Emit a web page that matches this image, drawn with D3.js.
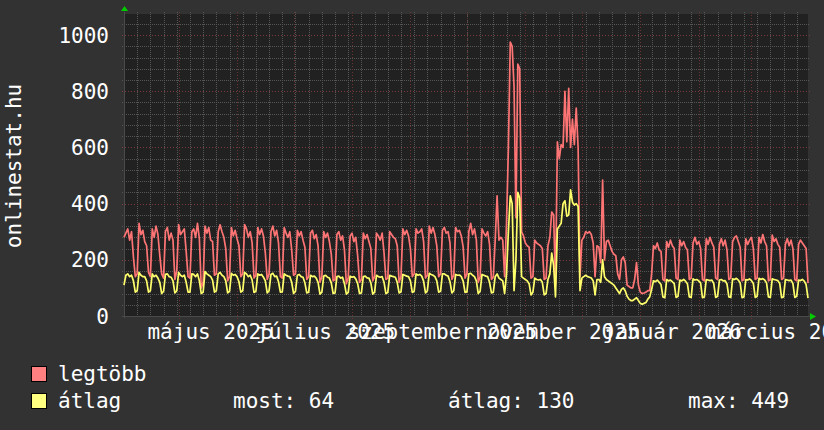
<!DOCTYPE html>
<html>
<head>
<meta charset="utf-8">
<script src="https://cdn.jsdelivr.net/npm/d3@7"></script>
<style>
  body { margin: 0; background: #323232; }
  text { font-family: "DejaVu Sans Mono", monospace; fill: #fff; }
</style>
</head>
<body>
<svg id="chart" width="824" height="430"></svg>
<script>
// Daily values, first day 2025-04-02, last day 2026-03-31
const startDate = new Date(2025, 3, 2);
const endDate = new Date(2026, 2, 31);

// legtöbb (max per day)
const legtobb = [
  280, 295, 310, 270, 300, 210, 140, 150,
  330, 290, 305, 265, 250, 155, 140,
  310, 280, 320, 290, 215, 150, 135,
  300, 315, 270, 295, 270, 130, 160,
  325, 290, 300, 310, 230, 140, 135,
  300, 310, 280, 330, 275, 100, 120,
  320, 295, 315, 270, 265, 145, 150,
  300, 325, 300, 280, 240, 125, 140,
  315, 285, 305, 275, 250, 140, 150,
  325, 310, 280, 300, 260, 135, 145,
  315, 290, 310, 285, 225, 130, 150,
  300, 320, 285, 305, 260, 140, 135,
  315, 295, 280, 300, 235, 145, 150,
  305, 285, 300, 270, 245, 130, 140,
  295, 305, 275, 290, 250, 120, 140,
  300, 280, 295, 265, 220, 125, 130,
  290, 300, 270, 285, 235, 115, 135,
  285, 295, 265, 280, 215, 120, 130,
  295, 275, 290, 265, 240, 125, 140,
  295, 285, 270, 295, 225, 130, 135,
  300, 290, 280, 275, 250, 120, 140,
  310, 290, 305, 285, 240, 140, 150,
  310, 295, 300, 310, 265, 135, 145,
  320, 295, 315, 290, 250, 140, 150,
  305, 315, 295, 300, 260, 130, 145,
  315, 300, 305, 285, 245, 135, 150,
  300, 330, 290, 310, 270, 120, 140,
  310, 295, 285, 300, 255, 130, 140,
  270, 428, 270, 280, 270, 140, 330,
  600, 975, 960, 815, 350, 897, 880,
  300, 285, 260, 250, 245, 135, 140,
  270, 260, 255, 250, 240, 130, 135,
  250, 280, 370, 360, 110, 620, 560,
  610, 600, 800, 620, 810, 600, 700,
  610, 740, 600, 140, 270, 280, 300,
  295, 300, 290, 260, 140, 250, 245,
  190, 484, 200, 265, 270, 250, 230,
  220, 215, 150, 130, 200, 210, 190,
  110, 105, 100, 100, 130, 190, 110,
  85, 80, 82, 85, 90, 90, 150,
  250, 240, 260, 235, 230, 130, 125,
  265, 245, 270, 250, 240, 135, 130,
  270, 250, 265, 245, 235, 130, 135,
  260, 280, 255, 265, 240, 130, 125,
  275, 255, 280, 260, 245, 135, 130,
  255, 275, 250, 270, 235, 130, 135,
  265, 280, 285, 265, 245, 125, 130,
  275, 255, 270, 280, 240, 130, 135,
  280, 260, 290, 265, 250, 125, 130,
  288, 265, 275, 255, 245, 130, 135,
  255, 275, 250, 270, 240, 130, 125,
  255, 270, 260, 250, 240, 117
];

// átlag (daily average)
const atlag = [
  110, 145, 150, 140, 145, 125, 85, 90,
  155, 145, 140, 140, 125, 85, 90,
  150, 140, 145, 135, 120, 80, 88,
  148, 150, 140, 138, 125, 82, 90,
  155, 145, 140, 145, 120, 85, 85,
  150, 148, 140, 150, 125, 80, 85,
  158, 150, 145, 140, 128, 85, 90,
  150, 155, 145, 140, 125, 82, 88,
  152, 145, 148, 140, 122, 85, 90,
  155, 150, 140, 145, 128, 84, 88,
  150, 145, 148, 138, 125, 82, 90,
  148, 152, 140, 142, 122, 85, 86,
  150, 145, 142, 140, 120, 80, 88,
  145, 148, 140, 138, 118, 82, 85,
  145, 140, 142, 135, 120, 78, 85,
  142, 145, 138, 135, 118, 80, 82,
  140, 142, 135, 138, 115, 78, 84,
  142, 138, 140, 132, 115, 80, 82,
  140, 142, 136, 135, 118, 78, 85,
  145, 140, 138, 140, 120, 80, 84,
  145, 142, 140, 138, 120, 82, 86,
  148, 145, 142, 140, 125, 84, 88,
  150, 145, 148, 142, 124, 82, 90,
  152, 148, 145, 140, 125, 85, 88,
  150, 150, 145, 142, 122, 82, 90,
  148, 145, 146, 140, 124, 84, 86,
  150, 152, 145, 140, 125, 80, 88,
  148, 145, 142, 140, 120, 82, 85,
  140, 150, 135, 130, 125, 80, 150,
  300, 428, 400, 90, 200, 440, 420,
  140, 135, 130, 125, 115, 75, 85,
  135, 130, 128, 130, 120, 75, 80,
  130, 150, 224, 180, 68, 310, 320,
  330, 400, 410, 355, 360, 449, 405,
  395, 400, 390, 90, 135, 140, 145,
  140, 138, 135, 125, 75, 130, 130,
  120, 200, 140, 130, 125, 120, 115,
  110, 100, 90, 80, 95, 100, 90,
  70, 60, 55, 55, 60, 65, 55,
  45, 42, 45, 48, 60, 68, 95,
  125, 122, 128, 120, 112, 68, 65,
  130, 125, 128, 122, 115, 66, 70,
  128, 125, 130, 124, 115, 68, 66,
  132, 128, 130, 125, 118, 65, 68,
  130, 128, 126, 128, 115, 66, 70,
  128, 130, 125, 126, 114, 68, 66,
  132, 130, 134, 128, 118, 65, 68,
  130, 128, 132, 126, 116, 66, 70,
  134, 130, 133, 128, 118, 68, 66,
  132, 130, 128, 126, 116, 65, 68,
  130, 128, 126, 128, 115, 66, 70,
  128, 126, 130, 124, 112, 64
];

const yTicks = [0, 200, 400, 600, 800, 1000];
const monthLabels = ["május 2025", "július 2025", "szeptember 2025", "november 2025", "január 2026", "március 2026"];
const labelMonths = [new Date(2025, 4, 1), new Date(2025, 6, 1), new Date(2025, 8, 1), new Date(2025, 10, 1), new Date(2026, 0, 1), new Date(2026, 2, 1)];
const legendNames = ["legtöbb", "átlag"];
const legendColors = ["#ff8080", "#ffff80"];
const lineColors = ["#ff7474", "#ffff6c"];
const stats = ["most: 64", "átlag: 130", "max: 449"];

const svg = d3.select("#chart");
const plot = { left: 124, right: 808, top: 14, bottom: 316 };

const x = d3.scaleTime().domain([startDate, endDate]).range([plot.left, plot.right]);
const y = d3.scaleLinear().domain([0, 1075]).range([plot.bottom, plot.top]);

// canvas + plot background
svg.append("rect").attr("width", 824).attr("height", 430).attr("fill", "#323232");
svg.append("rect")
  .attr("x", plot.left).attr("y", plot.top)
  .attr("width", plot.right - plot.left).attr("height", plot.bottom - plot.top)
  .attr("fill", "#212121");

const grid = svg.append("g");

// minor grid: weekly verticals, 40 units horizontals
d3.timeWednesday.range(startDate, endDate).forEach(d => {
  grid.append("line")
    .attr("x1", Math.round(x(d)) + 0.5).attr("x2", Math.round(x(d)) + 0.5)
    .attr("y1", plot.top - 2).attr("y2", plot.bottom + 2)
    .attr("stroke", "#555").attr("stroke-dasharray", "1,1");
});
d3.range(40, 1075, 40).filter(v => v % 200 !== 0).forEach(v => {
  grid.append("line")
    .attr("x1", plot.left - 2).attr("x2", plot.right + 2)
    .attr("y1", Math.round(y(v)) + 0.5).attr("y2", Math.round(y(v)) + 0.5)
    .attr("stroke", "#555").attr("stroke-dasharray", "1,1");
});

// major grid: months and 200 units
d3.timeMonth.range(d3.timeMonth.ceil(startDate), endDate).forEach(d => {
  grid.append("line")
    .attr("x1", Math.round(x(d)) + 0.5).attr("x2", Math.round(x(d)) + 0.5)
    .attr("y1", plot.top - 2).attr("y2", plot.bottom + 3)
    .attr("stroke", "#6a3434").attr("stroke-dasharray", "1,2");
});
yTicks.filter(v => v > 0).forEach(v => {
  grid.append("line")
    .attr("x1", plot.left - 2).attr("x2", plot.right + 2)
    .attr("y1", Math.round(y(v)) + 0.5).attr("y2", Math.round(y(v)) + 0.5)
    .attr("stroke", "#7a3a3a").attr("stroke-dasharray", "1,2");
});

// axes lines
svg.append("line")
  .attr("x1", plot.left - 2).attr("x2", plot.right + 2)
  .attr("y1", plot.bottom + 0.5).attr("y2", plot.bottom + 0.5)
  .attr("stroke", "#4a4a4a");
svg.append("line")
  .attr("x1", plot.left + 0.5).attr("x2", plot.left + 0.5)
  .attr("y1", plot.top - 2).attr("y2", plot.bottom + 2)
  .attr("stroke", "#4a4a4a");

// arrows
svg.append("path")
  .attr("d", `M${plot.left - 3},${plot.top - 3} L${plot.left + 4},${plot.top - 3} L${plot.left + 0.5},${plot.top - 8} Z`)
  .attr("fill", "#00cc00");
svg.append("path")
  .attr("d", `M${plot.right + 2},${plot.bottom - 3} L${plot.right + 2},${plot.bottom + 4} L${plot.right + 8},${plot.bottom + 0.5} Z`)
  .attr("fill", "#00cc00");

// data lines
const days = legtobb.map((v, i) => d3.timeDay.offset(startDate, i));
const line = d3.line()
  .x((d, i) => x(days[i]))
  .y(d => y(d));

[legtobb, atlag].forEach((series, k) => {
  svg.append("path")
    .datum(series)
    .attr("d", line)
    .attr("fill", "none")
    .attr("stroke", lineColors[k])
    .attr("stroke-width", 1.7)
    .attr("stroke-linejoin", "round");
});

// y tick labels
svg.append("g").selectAll("text")
  .data(yTicks)
  .join("text")
  .attr("x", 109)
  .attr("y", d => y(d))
  .attr("dy", "0.36em")
  .attr("text-anchor", "end")
  .attr("font-size", 21)
  .text(d => d);

// x labels, centered about half a month after month start
svg.append("g").selectAll("text")
  .data(monthLabels)
  .join("text")
  .attr("x", (d, i) => x(d3.timeDay.offset(labelMonths[i], 17)))
  .attr("y", 339)
  .attr("text-anchor", "middle")
  .attr("font-size", 21)
  .text(d => d);

// vertical title
svg.append("text")
  .attr("transform", "translate(21,166) rotate(-90)")
  .attr("text-anchor", "middle")
  .attr("font-size", 21)
  .text("onlinestat.hu");

// legend
const legend = svg.append("g");
legendNames.forEach((name, i) => {
  legend.append("rect")
    .attr("x", 31.5).attr("y", 366.5 + i * 27)
    .attr("width", 15).attr("height", 15)
    .attr("fill", legendColors[i])
    .attr("stroke", "#000");
  legend.append("text")
    .attr("x", 58).attr("y", 381 + i * 27)
    .attr("font-size", 21)
    .text(name);
});
const statX = [233, 448, 688];
stats.forEach((s, i) => {
  legend.append("text")
    .attr("x", statX[i]).attr("y", 408)
    .attr("font-size", 21)
    .text(s);
});
</script>
</body>
</html>
